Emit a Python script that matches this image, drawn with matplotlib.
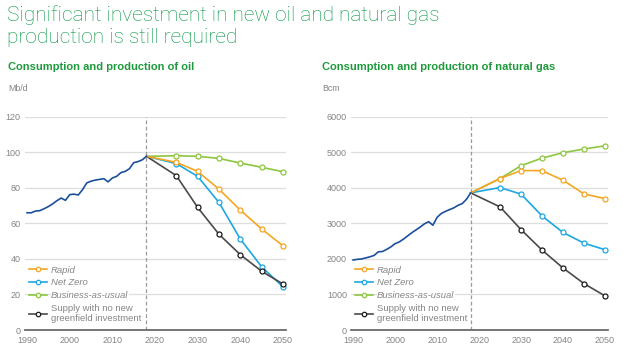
import numpy as np
import matplotlib
matplotlib.use("Agg")
import matplotlib.pyplot as plt
from matplotlib.lines import Line2D

# ===================== DATA =====================
HIST_YEARS = list(range(1990, 2019))
OIL_HIST = [66.0, 66.0, 67.0, 67.2, 68.3, 69.5, 71.0, 72.8, 74.3, 73.0,
            76.2, 76.5, 76.0, 79.0, 82.8, 83.8, 84.4, 84.8, 85.2, 83.4,
            85.6, 86.5, 88.6, 89.3, 90.8, 94.2, 94.8, 95.8, 97.8]
GAS_HIST = [1970, 1990, 2000, 2030, 2060, 2100, 2200, 2210, 2270, 2340,
            2430, 2480, 2560, 2650, 2740, 2820, 2900, 2990, 3050, 2950,
            3170, 3280, 3340, 3390, 3440, 3510, 3560, 3680, 3860]

SCEN_YEARS = [2018, 2025, 2030, 2035, 2040, 2045, 2050]
SCEN_NAMES = ["Rapid", "Net Zero", "Business-as-usual",
              "Supply with no new\ngreenfield investment"]

OIL_RAPID  = [97.8, 94.4, 89.3, 79.3, 67.5, 56.9, 47.4]
OIL_NZ     = [97.8, 93.7, 86.5, 71.8, 51.2, 35.6, 24.3]
OIL_BAU    = [97.8, 98.1, 97.8, 96.6, 94.0, 91.6, 89.1]
OIL_SUPPLY = [97.8, 86.9, 69.0, 53.9, 42.4, 33.1, 25.9]

GAS_RAPID  = [3860, 4265, 4490, 4485, 4215, 3830, 3700]
GAS_NZ     = [3860, 4010, 3825, 3210, 2745, 2445, 2260]
GAS_BAU    = [3860, 4265, 4625, 4840, 4990, 5095, 5185]
GAS_SUPPLY = [3860, 3465, 2825, 2250, 1745, 1305, 960]

OIL_TICKS = [0, 20, 40, 60, 80, 100, 120]
GAS_TICKS = [0, 1000, 2000, 3000, 4000, 5000, 6000]
X_TICKS = [1990, 2000, 2010, 2020, 2030, 2040, 2050]

# ===================== STYLE =====================
GREEN_TITLE = "#009640"
GREEN_SUB   = "#1e9a3c"
GREY_TXT    = "#858585"
C_HIST   = "#1c4f9c"
C_RAPID  = "#f5a623"
C_NZ     = "#1ea7e1"
C_BAU    = "#8dc63f"
C_SUPPLY = "#4a4a4a"
SCEN_COLORS = [C_RAPID, C_NZ, C_BAU, C_SUPPLY]
FONT = "Liberation Sans"

plt.rcParams["font.family"] = [FONT, "DejaVu Sans"]

fig = plt.figure(figsize=(6.23, 3.5), dpi=100)
fig.patch.set_facecolor("white")

# Titel (zwei Zeilen, je eigene Grundlinie)
title_font = dict(fontsize=15.0, color=GREEN_TITLE, family=["Roboto", "DejaVu Sans"],
                  fontweight="light", va="baseline")
fig.text(0.012, 0.940, "Significant investment in new oil and natural gas", **title_font)
fig.text(0.012, 0.877, "production is still required", **title_font)

fig.text(0.013, 0.80, "Consumption and production of oil", fontsize=8.0,
         color=GREEN_SUB, fontweight="bold", va="baseline")
fig.text(0.517, 0.80, "Consumption and production of natural gas", fontsize=8.0,
         color=GREEN_SUB, fontweight="bold", va="baseline")
fig.text(0.013, 0.74, "Mb/d", fontsize=6.3, color=GREY_TXT, va="baseline")
fig.text(0.517, 0.74, "Bcm", fontsize=6.3, color=GREY_TXT, va="baseline")

ax_oil = fig.add_axes([0.040, 0.0571, 0.419, 0.609])
ax_gas = fig.add_axes([0.5634, 0.0571, 0.4125, 0.609])


def style_ax(ax, yticks):
    ax.set_xlim(1989.5, 2050.7)
    ax.set_ylim(yticks[0], yticks[-1])
    ax.set_yticks(yticks)
    ax.set_xticks(X_TICKS)
    for s in ("top", "right", "left"):
        ax.spines[s].set_visible(False)
    ax.spines["bottom"].set_color("#6b6b6b")
    ax.spines["bottom"].set_linewidth(1.3)
    ax.grid(axis="y", color="#dedede", linewidth=0.9)
    ax.set_axisbelow(True)
    ax.tick_params(axis="both", length=0, labelsize=6.5, colors=GREY_TXT)
    ax.tick_params(axis="x", pad=4)
    ax.tick_params(axis="y", pad=3)
    ax.axvline(2018, color="#9a9a9a", linewidth=0.9, linestyle=(0, (3, 2)), zorder=1)


def draw_panel(ax, hist, scen, yticks):
    style_ax(ax, yticks)
    ax.plot(HIST_YEARS, hist, color=C_HIST, linewidth=1.2, zorder=5)
    zords = [4, 3, 2, 3.5]
    for vals, col, name, z in zip(scen, SCEN_COLORS, SCEN_NAMES, zords):
        ax.plot(SCEN_YEARS, vals, color=col, linewidth=1.2, marker="o",
                markersize=3.6, markerfacecolor="white", markeredgewidth=0.9,
                markeredgecolor=("#1a1a1a" if col == C_SUPPLY else col),
                markevery=slice(1, None), zorder=z)

    handles = [Line2D([0], [0], color=c, linewidth=1.2, marker="o", markersize=3.2,
                      markerfacecolor="white", markeredgewidth=0.9,
                      markeredgecolor=("#1a1a1a" if c == C_SUPPLY else c))
               for c in SCEN_COLORS]
    leg = ax.legend(handles, SCEN_NAMES, loc="lower left", bbox_to_anchor=(0.015, 0.034),
                    frameon=False, fontsize=6.8, handlelength=1.9, handletextpad=0.45,
                    labelspacing=0.42, borderpad=0.0, borderaxespad=0.0)
    for i, t in enumerate(leg.get_texts()):
        t.set_color(GREY_TXT)
        if i < 3:
            t.set_fontstyle("italic")
        t.set_linespacing(1.05)
        t.set_backgroundcolor("white")
        t.get_bbox_patch().set_linewidth(0)
        t.get_bbox_patch().set_boxstyle("square,pad=0.05")
    leg.set_zorder(10)


draw_panel(ax_oil, OIL_HIST, [OIL_RAPID, OIL_NZ, OIL_BAU, OIL_SUPPLY], OIL_TICKS)
draw_panel(ax_gas, GAS_HIST, [GAS_RAPID, GAS_NZ, GAS_BAU, GAS_SUPPLY], GAS_TICKS)

fig.savefig("out.png", dpi=100)
